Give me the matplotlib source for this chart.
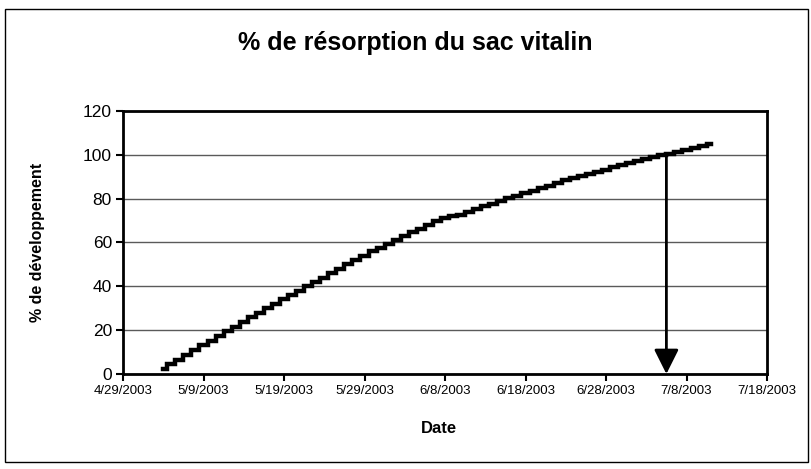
import datetime as dt
import matplotlib
matplotlib.use('Agg')
import matplotlib.pyplot as plt
import matplotlib.dates as mdates
from matplotlib.patches import Rectangle
from matplotlib.ticker import FuncFormatter

plt.rcParams['font.family'] = ['Liberation Sans', 'DejaVu Sans']

# daily readings, starting 5/4/2003
start_day = dt.datetime(2003, 5, 4)
pct_dev = [2.3, 4.4, 6.5, 8.7, 10.8, 13.0, 15.1, 17.3, 19.4, 21.6,
           23.7, 25.9, 28.0, 30.0, 32.0, 34.0, 36.0, 38.0, 40.0, 42.0,
           44.0, 46.0, 48.0, 50.0, 52.0, 54.0, 55.9, 57.7, 59.4, 61.1,
           62.9, 64.6, 66.3, 68.0, 69.7, 71.4, 72.0, 72.5, 74.0, 75.2,
           76.5, 77.7, 78.9, 80.1, 81.3, 82.5, 83.6, 84.8, 86.0, 87.2,
           88.3, 89.3, 90.3, 91.3, 92.3, 93.3, 94.3, 95.2, 96.1, 97.0,
           97.9, 98.8, 99.7, 100.6, 101.5, 102.4, 103.3, 104.2, 105.1]
dates = [start_day + dt.timedelta(days=i) for i in range(len(pct_dev))]

# date where 100 % is reached
arrow_date = dt.datetime(2003, 7, 5, 12)
arrow_top = 100

x_min = dt.datetime(2003, 4, 29)
x_max = dt.datetime(2003, 7, 18)
x_ticks = [x_min + dt.timedelta(days=10 * i) for i in range(9)]
y_ticks = [0, 20, 40, 60, 80, 100, 120]

fig = plt.figure(figsize=(8.12, 4.69), dpi=100)
ax = fig.add_axes([0.1515, 0.2026, 0.7931, 0.5607])

ax.plot(dates, pct_dev, drawstyle='steps-mid', color='black', lw=3.2,
        solid_joinstyle='miter', zorder=3)

ax.annotate('', xy=(arrow_date, 0), xytext=(arrow_date, arrow_top),
            arrowprops=dict(arrowstyle='-|>,head_length=0.6,head_width=0.3',
                            color='black', lw=2, mutation_scale=25,
                            shrinkA=0, shrinkB=0), zorder=4)

ax.set_xlim(x_min, x_max)
ax.set_ylim(0, 120)
ax.set_xticks(x_ticks)
ax.set_yticks(y_ticks)
ax.xaxis.set_major_formatter(FuncFormatter(
    lambda v, p: '{}/{}/{}'.format(mdates.num2date(v).month,
                                   mdates.num2date(v).day,
                                   mdates.num2date(v).year)))
ax.grid(axis='y', color='#5a5a5a', lw=1)
ax.set_axisbelow(True)
for s in ax.spines.values():
    s.set_linewidth(2)
ax.tick_params(axis='x', direction='out', length=5, width=1.5, labelsize=9.5, pad=3)
ax.tick_params(axis='y', direction='out', length=5, width=1.5, labelsize=12.5, pad=3)

ax.set_xlabel('Date', fontsize=12, fontweight='bold')
ax.xaxis.set_label_coords(0.49, -0.18)
ax.set_ylabel('% de développement', fontsize=11.5, fontweight='bold')
ax.yaxis.set_label_coords(-0.121, 0.5)

fig.text(0.511, 0.908, '% de résorption du sac vitalin', ha='center', va='center',
         fontsize=18, fontweight='bold')

fig.patches.append(Rectangle((0.006, 0.015), 0.989, 0.965, transform=fig.transFigure,
                             fill=False, edgecolor='black', lw=1))

fig.savefig('out.png', dpi=100)
